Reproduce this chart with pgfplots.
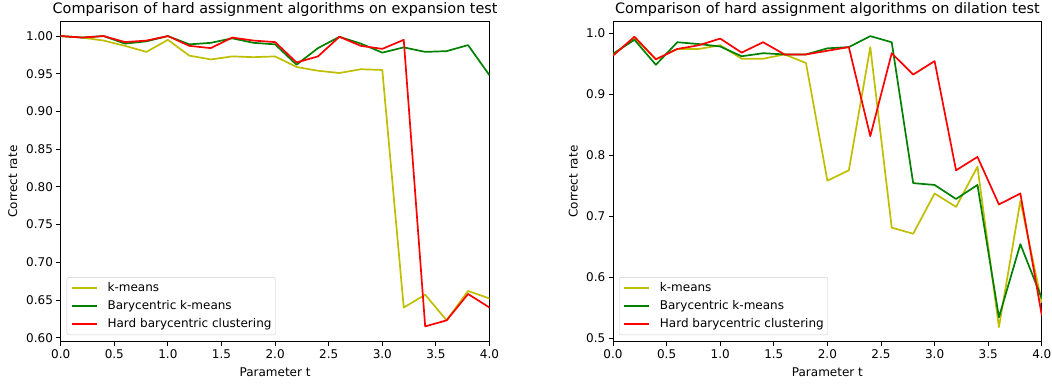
\documentclass[border=0pt]{standalone}
\usepackage{fontspec}
\setmainfont{DejaVu Sans}
\usepackage{pgfplots}
\pgfplotsset{compat=1.18}

\definecolor{myy}{RGB}{191,191,0}
\definecolor{myg}{RGB}{0,128,0}
\definecolor{myr}{RGB}{255,0,0}

\pgfplotsset{
  mystyle/.style={
    scale only axis, width=428.8pt, height=320.2pt,
    xmin=0, xmax=4, xtick={0,0.5,...,4},
    axis line style={line width=0.9pt},
    tick align=outside, tick pos=left,
    major tick length=4.2pt,
    every tick/.style={black, line width=0.9pt},
    tick label style={font=\fontsize{12}{14}\selectfont},
    /pgf/number format/assume math mode=true,
    xticklabel style={/pgf/number format/.cd, fixed, fixed zerofill, precision=1},
    every axis title/.style={at={(0.5,1)}, anchor=base, yshift=8pt, font=\fontsize{14.4}{17}\selectfont},
    every axis x label/.style={at={(0.5,0)}, anchor=base, yshift=-34.3pt, font=\fontsize{12}{14}\selectfont},
    legend cell align=left,
    legend style={at={(0,0)}, anchor=south west, xshift=6pt, yshift=6.7pt,
      draw=black!20, rounded corners=2pt, fill=white,
      font=\fontsize{12}{14}\selectfont, inner xsep=4pt, inner ysep=5pt,
      row sep=6.5pt, column sep=10pt,
      nodes={inner sep=0pt, text height=9pt, text depth=2.5pt}},
    legend image code/.code={\draw[mark repeat=2,mark phase=2,#1] plot coordinates {(0pt,0pt) (12.5pt,0pt) (25pt,0pt)};},
    every axis plot/.append style={line width=1.7pt, line join=round},
  }
}

\begin{document}
\begin{tikzpicture}
\path[use as bounding box] (0,0) rectangle (1052pt,386pt);

\begin{axis}[mystyle, at={(60.7pt,44.3pt)}, anchor=south west,
  ymin=0.5947, ymax=1.0193,
  ytick={0.60,0.65,...,1.001},
  yticklabel style={/pgf/number format/.cd, fixed, fixed zerofill, precision=2},
  every axis y label/.style={at={(-0.1019,0.5)}, rotate=90, anchor=base, font=\fontsize{12}{14}\selectfont},
  title={Comparison of hard assignment algorithms on expansion test},
  xlabel={Parameter t}, ylabel={Correct rate}]
\addplot[myy] coordinates {(0,1.000) (0.2,0.998) (0.4,0.994) (0.6,0.987) (0.8,0.979) (1.0,0.995) (1.2,0.974) (1.4,0.969) (1.6,0.973) (1.8,0.972) (2.0,0.973) (2.2,0.959) (2.4,0.954) (2.6,0.951) (2.8,0.956) (3.0,0.955) (3.2,0.640) (3.4,0.657) (3.6,0.623) (3.8,0.662) (4.0,0.652)};
\addplot[myg] coordinates {(0,1.000) (0.2,0.998) (0.4,1.000) (0.6,0.990) (0.8,0.993) (1.0,1.000) (1.2,0.989) (1.4,0.991) (1.6,0.997) (1.8,0.991) (2.0,0.989) (2.2,0.962) (2.4,0.984) (2.6,0.999) (2.8,0.990) (3.0,0.978) (3.2,0.985) (3.4,0.979) (3.6,0.980) (3.8,0.988) (4.0,0.948)};
\addplot[myr] coordinates {(0,1.000) (0.2,0.998) (0.4,1.000) (0.6,0.992) (0.8,0.994) (1.0,1.000) (1.2,0.987) (1.4,0.984) (1.6,0.998) (1.8,0.994) (2.0,0.992) (2.2,0.965) (2.4,0.973) (2.6,0.999) (2.8,0.987) (3.0,0.983) (3.2,0.995) (3.4,0.615) (3.6,0.623) (3.8,0.658) (4.0,0.640)};
\legend{k-means, Barycentric k-means, Hard barycentric clustering}
\end{axis}

\begin{axis}[mystyle, at={(613pt,44.3pt)}, anchor=south west,
  ymin=0.494, ymax=1.019,
  ytick={0.5,0.6,...,1.001},
  yticklabel style={/pgf/number format/.cd, fixed, fixed zerofill, precision=1},
  every axis y label/.style={at={(-0.0828,0.5)}, rotate=90, anchor=base, font=\fontsize{12}{14}\selectfont},
  title={Comparison of hard assignment algorithms on dilation test},
  xlabel={Parameter t}, ylabel={Correct rate}]
\addplot[myy] coordinates {(0,0.964) (0.2,0.992) (0.4,0.957) (0.6,0.974) (0.8,0.974) (1.0,0.980) (1.2,0.958) (1.4,0.958) (1.6,0.965) (1.8,0.951) (2.0,0.758) (2.2,0.775) (2.4,0.977) (2.6,0.681) (2.8,0.671) (3.0,0.737) (3.2,0.715) (3.4,0.781) (3.6,0.518) (3.8,0.725) (4.0,0.558)};
\addplot[myg] coordinates {(0,0.966) (0.2,0.989) (0.4,0.948) (0.6,0.985) (0.8,0.982) (1.0,0.978) (1.2,0.962) (1.4,0.967) (1.6,0.965) (1.8,0.965) (2.0,0.975) (2.2,0.977) (2.4,0.995) (2.6,0.985) (2.8,0.754) (3.0,0.751) (3.2,0.728) (3.4,0.751) (3.6,0.534) (3.8,0.654) (4.0,0.565)};
\addplot[myr] coordinates {(0,0.963) (0.2,0.994) (0.4,0.957) (0.6,0.974) (0.8,0.980) (1.0,0.991) (1.2,0.968) (1.4,0.985) (1.6,0.965) (1.8,0.965) (2.0,0.971) (2.2,0.977) (2.4,0.831) (2.6,0.967) (2.8,0.932) (3.0,0.954) (3.2,0.775) (3.4,0.797) (3.6,0.719) (3.8,0.737) (4.0,0.537)};
\legend{k-means, Barycentric k-means, Hard barycentric clustering}
\end{axis}
\end{tikzpicture}
\end{document}
